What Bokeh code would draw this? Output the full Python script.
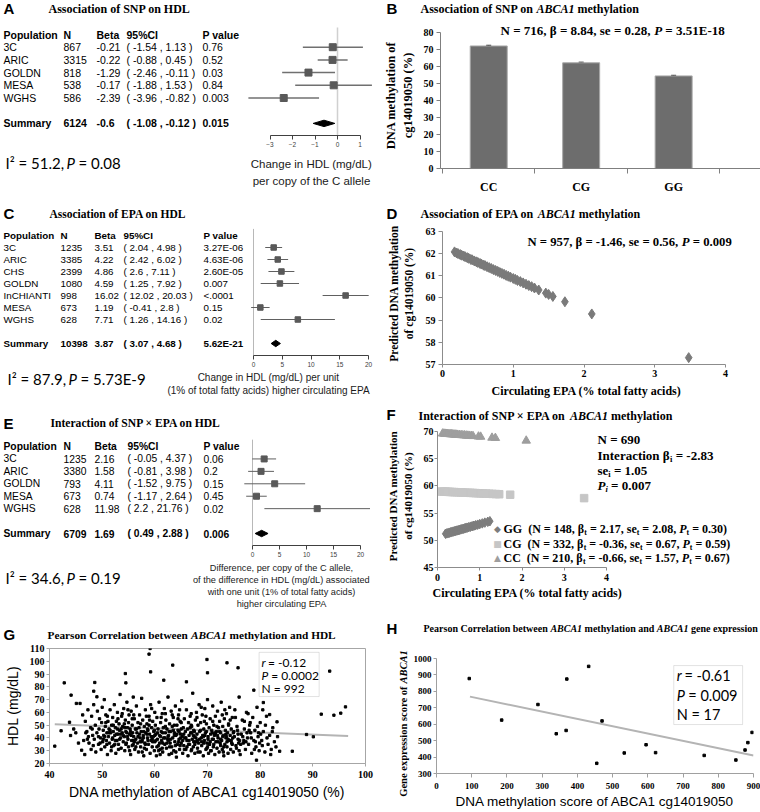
import math
from bokeh.plotting import figure
from bokeh.models import (Range1d, LinearAxis, FixedTicker, Label, ColumnDataSource,
                          BoxAnnotation, Whisker, TeeHead)
from bokeh.layouts import row, column
from bokeh.embed import file_html
from bokeh.resources import INLINE
from bokeh.core.properties import value

SERIF = "Liberation Serif"
SANS = "Liberation Sans"
CALI = "Lato"
SYM = "DejaVu Sans"

# ------------------------------------------------------------------ data
# A  Association of SNP on HDL
a_pop = ["3C", "ARIC", "GOLDN", "MESA", "WGHS"]
a_n = [867, 3315, 818, 538, 586]
a_beta = [-0.21, -0.22, -1.29, -0.17, -2.39]
a_lo = [-1.54, -0.88, -2.46, -1.88, -3.96]
a_hi = [1.13, 0.45, -0.11, 1.53, -0.82]
a_p = ["0.76", "0.52", "0.03", "0.84", "0.003"]
a_summary = ["Summary", 6124, -0.6, -1.08, -0.12, "0.015"]
a_i2 = ["51.2", "0.08"]
a_ticks = [-3, -2, -1, 0, 1]

# C  Association of EPA on HDL
c_pop = ["3C", "ARIC", "CHS", "GOLDN", "InCHIANTI", "MESA", "WGHS"]
c_n = [1235, 3385, 2399, 1080, 998, 673, 628]
c_beta = [3.51, 4.22, 4.86, 4.59, 16.02, 1.19, 7.71]
c_lo = [2.04, 2.42, 2.6, 1.25, 12.02, -0.41, 1.26]
c_hi = [4.98, 6.02, 7.11, 7.92, 20.03, 2.8, 14.16]
c_p = ["3.27E-06", "4.63E-06", "2.60E-05", "0.007", "<.0001", "0.15", "0.02"]
c_summary = ["Summary", 10398, 3.87, 3.07, 4.68, "5.62E-21"]
c_i2 = ["87.9", "5.73E-9"]
c_ticks = [0, 5, 10, 15, 20]

# E  Interaction of SNP x EPA on HDL
e_pop = ["3C", "ARIC", "GOLDN", "MESA", "WGHS"]
e_n = [1235, 3380, 793, 673, 628]
e_beta = [2.16, 1.58, 4.11, 0.74, 11.98]
e_lo = [-0.05, -0.81, -1.52, -1.17, 2.2]
e_hi = [4.37, 3.98, 9.75, 2.64, 21.76]
e_p = ["0.06", "0.2", "0.15", "0.45", "0.02"]
e_summary = ["Summary", 6709, 1.69, 0.49, 2.88, "0.006"]
e_i2 = ["34.6", "0.19"]
e_ticks = [0, 5, 10, 15, 20]

# B  Association of SNP on ABCA1 methylation
b_geno = ["CC", "CG", "GG"]
b_mean = [72.0, 62.1, 54.4]
b_err = [0.4, 0.35, 0.35]
b_ticks = [0, 10, 20, 30, 40, 50, 60, 70, 80]

# D  Association of EPA on ABCA1 methylation (predicted values)
d_epa = [0.17, 0.20, 0.22, 0.25, 0.27, 0.30, 0.32, 0.35, 0.37, 0.40, 0.42, 0.45, 0.48,
         0.50, 0.53, 0.55, 0.58, 0.60, 0.63, 0.66, 0.69, 0.72, 0.75, 0.78, 0.81, 0.84,
         0.87, 0.90, 0.93, 0.96, 1.00, 1.03, 1.06, 1.10, 1.14, 1.18, 1.22, 1.26, 1.30,
         1.36, 1.46, 1.50, 1.56, 1.73, 2.11, 3.48]
d_pred = [62.08, 62.03, 62.00, 61.96, 61.93, 61.89, 61.86, 61.82, 61.79, 61.74, 61.72,
          61.67, 61.63, 61.60, 61.56, 61.53, 61.48, 61.46, 61.41, 61.37, 61.33, 61.28,
          61.24, 61.20, 61.15, 61.11, 61.07, 61.02, 60.98, 60.94, 60.88, 60.84, 60.79,
          60.74, 60.68, 60.62, 60.56, 60.51, 60.45, 60.36, 60.22, 60.16, 60.07, 59.83,
          59.28, 57.31]
d_x_ticks = [0, 1, 2, 3, 4]
d_y_ticks = [57, 58, 59, 60, 61, 62, 63]

# F  Interaction of SNP x EPA on ABCA1 methylation
f_cc_epa = [0.12, 0.15, 0.18, 0.21, 0.24, 0.27, 0.30, 0.33, 0.36, 0.39, 0.42, 0.45, 0.48,
            0.52, 0.56, 0.60, 0.64, 0.68, 0.72, 0.76, 0.80, 0.84, 0.97, 1.02, 1.29, 1.37, 2.10]
f_cc_pred = [69.62, 69.60, 69.58, 69.56, 69.54, 69.52, 69.50, 69.48, 69.46, 69.44, 69.42,
             69.40, 69.38, 69.36, 69.33, 69.30, 69.28, 69.25, 69.22, 69.20, 69.17, 69.15,
             69.06, 69.03, 68.85, 68.80, 68.31]
f_cg_epa = [0.10, 0.14, 0.18, 0.22, 0.26, 0.30, 0.35, 0.40, 0.45, 0.50, 0.55, 0.60, 0.66,
            0.72, 0.78, 0.84, 0.90, 0.96, 1.02, 1.08, 1.15, 1.22, 1.30, 1.38, 1.46, 1.72, 3.47]
f_cg_pred = [58.96, 58.95, 58.94, 58.92, 58.91, 58.89, 58.87, 58.86, 58.84, 58.82, 58.80,
             58.78, 58.76, 58.74, 58.72, 58.70, 58.68, 58.65, 58.63, 58.61, 58.59, 58.56,
             58.53, 58.50, 58.47, 58.38, 57.75]
f_gg_epa = [0.19, 0.22, 0.25, 0.28, 0.31, 0.34, 0.37, 0.40, 0.43, 0.46, 0.49, 0.52, 0.55,
            0.58, 0.61, 0.64, 0.67, 0.70, 0.74, 0.78, 0.82, 0.86, 0.90, 0.95, 1.00, 1.06,
            1.12, 1.19, 1.24]
f_gg_pred = [51.20, 51.27, 51.33, 51.40, 51.46, 51.53, 51.60, 51.66, 51.73, 51.79, 51.86,
             51.93, 51.99, 52.06, 52.12, 52.19, 52.26, 52.32, 52.41, 52.50, 52.59, 52.67,
             52.76, 52.87, 52.98, 53.11, 53.25, 53.40, 53.51]
f_legend = [("GG", 148, "2.17", "2.08", "0.30"),
            ("CG", 332, "-0.36", "0.67", "0.59"),
            ("CC", 210, "-0.66", "1.57", "0.67")]
f_x_ticks = [0, 1, 2, 3, 4]
f_y_ticks = [45, 50, 55, 60, 65, 70]

# G  Pearson correlation between ABCA1 methylation and HDL
g_points = [
    (41.0, 33.6), (42.2, 45.6), (42.8, 83.1), (43.8, 52.3), (44.1, 73.5), (44.0, 41.9),
    (45.1, 67.0), (45.8, 67.0), (46.1, 30.4), (46.7, 27.0), (48.4, 76.6), (48.6, 83.4),
    (49.0, 72.2), (54.4, 90.4), (54.5, 83.1), (59.1, 110.0), (58.9, 105.6), (59.2, 91.7),
    (63.4, 97.0), (61.7, 85.2), (69.9, 101.4), (70.0, 91.0), (73.7, 98.8), (75.8, 94.9),
    (66.0, 83.9), (78.8, 77.4), (80.6, 67.7), (81.8, 58.3), (83.2, 52.6), (83.7, 29.6),
    (86.1, 29.6), (88.8, 42.7), (90.1, 40.9), (91.6, 58.6), (93.2, 92.3), (94.0, 57.8),
    (95.3, 59.4), (96.2, 64.3), (79.3, 22.6), (44.6, 47.0), (45.5, 36.0), (46.3, 58.0),
    (45.0, 44.0),
    (46.5, 38), (46.8, 53), (47.1, 45), (47.3, 62), (47.5, 36), (47.8, 48), (47.9, 31),
    (48.0, 57), (48.2, 42), (48.4, 66), (48.5, 39), (48.7, 50), (48.8, 29), (49.0, 44),
    (49.1, 61), (49.3, 35), (49.4, 47), (49.5, 55), (49.7, 40), (49.8, 31), (49.9, 52),
    (50.0, 64), (50.1, 37), (50.2, 46), (50.3, 42), (50.4, 70), (50.5, 33), (50.6, 49),
    (50.7, 58), (50.8, 38), (50.9, 44), (51.0, 27), (51.1, 53), (51.2, 41), (51.3, 47),
    (51.4, 36), (51.5, 62), (51.6, 44), (51.7, 30), (51.8, 50), (51.9, 39), (52.0, 56),
    (52.1, 45), (52.2, 34), (52.3, 66), (52.4, 42), (52.5, 48), (52.6, 28), (52.7, 53),
    (52.8, 38), (52.9, 60), (53.0, 43), (53.1, 35), (53.2, 51), (53.3, 46), (53.4, 74),
    (53.5, 40), (53.6, 32), (53.7, 57), (53.8, 44), (53.9, 49), (54.0, 37), (54.1, 63),
    (54.2, 41), (54.3, 30), (54.4, 54), (54.5, 45), (54.6, 36), (54.7, 68), (54.8, 48),
    (54.9, 39), (55.0, 52), (55.0, 33), (55.1, 58), (55.2, 43), (55.3, 47), (55.4, 27),
    (55.5, 61), (55.6, 38), (55.7, 50), (55.8, 44), (55.9, 35), (55.9, 72), (56.0, 41),
    (56.1, 55), (56.2, 31), (56.3, 47), (56.4, 39), (56.5, 65), (56.6, 44), (56.7, 36),
    (56.8, 52), (56.9, 29), (57.0, 48), (57.1, 58), (57.2, 40), (57.3, 33), (57.4, 45),
    (57.5, 71), (57.6, 38), (57.7, 54), (57.8, 42), (57.9, 26), (58.0, 49), (58.1, 36),
    (58.2, 62), (58.3, 44), (58.4, 31), (58.5, 51), (58.6, 40), (58.7, 46), (58.8, 35),
    (58.9, 57), (59.0, 43), (59.1, 28), (59.2, 66), (59.3, 38), (59.4, 48), (59.5, 33),
    (59.6, 53), (59.7, 41), (59.8, 45), (59.9, 30), (60.0, 60), (60.0, 37), (60.1, 50),
    (60.2, 43), (60.3, 26), (60.4, 56), (60.5, 39), (60.6, 47), (60.7, 34), (60.8, 68),
    (60.9, 42), (61.0, 31), (61.1, 52), (61.2, 45), (61.3, 38), (61.4, 59), (61.5, 29),
    (61.6, 48), (61.7, 40), (61.8, 63), (61.9, 35), (62.0, 44), (62.1, 54), (62.2, 32),
    (62.3, 47), (62.4, 39), (62.5, 72), (62.6, 42), (62.7, 27), (62.8, 51), (62.9, 36),
    (63.0, 45), (63.1, 61), (63.2, 33), (63.3, 49), (63.4, 40), (63.5, 56), (63.6, 30),
    (63.7, 44), (63.8, 37), (63.9, 65), (64.0, 42), (64.1, 25), (64.2, 50), (64.3, 35),
    (64.4, 46), (64.5, 58), (64.6, 39), (64.7, 31), (64.8, 53), (64.9, 43), (65.0, 36),
    (65.1, 69), (65.2, 41), (65.3, 28), (65.4, 48), (65.5, 34), (65.6, 55), (65.7, 40),
    (65.8, 45), (65.9, 31), (66.0, 62), (66.1, 38), (66.2, 47), (66.3, 26), (66.4, 52),
    (66.5, 42), (66.6, 35), (66.7, 57), (66.8, 44), (66.9, 30), (67.0, 49), (67.1, 39),
    (67.2, 75), (67.3, 33), (67.4, 46), (67.5, 41), (67.6, 28), (67.7, 54), (67.8, 37),
    (67.9, 60), (68.0, 43), (68.1, 32), (68.2, 50), (68.3, 36), (68.4, 66), (68.5, 45),
    (68.6, 29), (68.7, 52), (68.8, 40), (68.9, 34), (69.0, 58), (69.1, 42), (69.2, 26),
    (69.3, 47), (69.4, 38), (69.5, 63), (69.6, 44), (69.7, 31), (69.8, 51), (69.9, 36),
    (70.0, 70), (70.1, 41), (70.2, 28), (70.3, 48), (70.4, 35), (70.5, 55), (70.6, 43),
    (70.7, 30), (70.8, 46), (70.9, 39), (71.0, 65), (71.1, 33), (71.2, 50), (71.3, 42),
    (71.4, 27), (71.5, 57), (71.6, 37), (71.7, 45), (71.8, 32), (71.9, 61), (72.0, 40),
    (72.1, 48), (72.2, 29), (72.3, 53), (72.4, 36), (72.5, 44), (72.6, 68), (72.7, 38),
    (72.8, 31), (72.9, 49), (73.0, 42), (73.1, 26), (73.2, 55), (73.3, 35), (73.4, 46),
    (73.5, 40), (73.6, 59), (73.7, 33), (73.8, 44), (73.9, 28), (74.0, 51), (74.1, 38),
    (74.2, 64), (74.3, 42), (74.4, 31), (74.5, 47), (74.6, 36), (74.7, 56), (74.8, 40),
    (74.9, 29), (75.0, 45), (75.2, 62), (75.4, 34), (75.6, 49), (75.8, 39), (76.0, 72),
    (76.2, 27), (76.4, 43), (76.6, 54), (76.8, 36), (77.0, 47), (77.2, 31), (77.4, 60),
    (77.6, 40), (77.8, 35), (78.0, 50), (78.2, 44), (78.4, 28), (78.6, 56), (78.8, 38),
    (79.0, 46), (79.2, 33), (79.4, 64), (79.6, 41), (79.8, 30), (80.0, 52), (80.3, 38),
    (80.6, 45), (80.9, 29), (81.2, 57), (81.5, 35), (81.8, 42), (82.1, 31), (82.4, 48),
    (82.7, 37), (83.0, 33), (83.3, 41), (80.5, 62), (81.0, 50), (82.0, 27), (79.9, 36),
    (50.5, 41), (51.5, 46), (52.5, 38), (53.5, 43), (54.5, 35), (55.5, 42), (56.5, 47),
    (57.5, 37), (58.5, 43), (59.5, 39), (60.5, 44), (61.5, 36), (62.5, 41), (63.5, 46),
    (64.5, 37), (65.5, 43), (66.5, 38), (67.5, 45), (68.5, 39), (69.5, 42), (70.5, 37),
    (71.5, 44), (72.5, 39), (73.5, 43), (74.5, 38), (50.9, 35), (52.1, 50), (53.3, 39),
    (54.7, 44), (56.1, 37), (57.3, 51), (58.7, 38), (59.9, 46), (61.1, 41), (62.3, 36),
    (63.7, 50), (64.9, 40), (66.1, 33), (67.3, 42), (68.7, 46), (69.9, 32), (71.1, 39),
    (72.3, 45), (73.7, 37), (75.1, 41), (76.3, 35), (77.5, 44), (55.2, 30), (58.0, 32),
    (61.0, 27), (64.0, 29), (67.0, 31), (70.0, 33), (73.0, 29), (76.0, 30), (53.0, 55),
    (56.0, 58), (59.0, 54), (62.0, 59), (65.0, 52), (68.0, 56), (71.0, 53), (74.0, 50),
    (77.0, 53), (60.2, 38), (63.9, 34), (66.7, 48), (69.3, 36), (71.9, 42), (57.9, 45),
    (54.3, 48), (52.7, 43), (49.3, 41), (48.1, 47), (47.4, 41), (75.7, 46), (78.3, 40),
    (79.1, 37), (80.1, 43), (62.7, 45),
    (50.2, 39), (51.3, 44), (52.4, 35), (53.6, 47), (54.8, 41), (55.9, 38), (57.1, 43),
    (58.2, 35), (59.3, 41), (60.4, 33), (61.5, 44), (62.6, 38), (63.7, 42), (64.8, 34),
    (65.9, 40), (67.0, 44), (68.1, 38), (69.2, 41), (70.3, 35), (71.4, 43), (72.5, 34),
    (73.6, 41), (74.7, 35), (75.8, 43), (76.9, 38), (51.8, 33), (53.1, 31), (54.2, 51),
    (56.4, 33), (57.6, 29), (58.9, 50), (60.7, 30), (62.0, 49), (63.2, 28), (64.4, 55),
    (65.6, 31), (66.9, 50), (68.2, 29), (69.4, 53), (70.6, 30), (71.8, 49), (73.1, 33),
    (74.3, 54), (75.5, 32), (76.7, 41), (77.9, 46), (78.9, 31), (79.7, 44), (52.9, 47),
    (55.4, 45), (57.8, 40), (60.9, 36), (63.0, 39), (65.3, 38), (67.8, 40), (70.9, 44),
    (72.0, 37), (74.9, 44), (56.8, 41), (59.6, 37), (61.9, 40), (64.2, 43), (66.4, 35),
    (68.9, 37), (71.2, 35), (73.9, 39), (76.1, 38), (50.7, 52), (53.8, 59), (55.7, 55),
    (58.4, 57), (61.2, 56), (63.3, 58), (66.9, 59), (69.7, 57), (72.8, 58), (75.3, 56),
    (78.1, 52), (51.0, 57), (54.9, 62), (59.4, 63), (64.7, 62), (68.8, 64), (73.3, 62),
    (77.7, 59), (49.6, 36), (48.3, 34), (47.2, 39), (46.9, 44), (80.4, 34), (81.3, 40),
    (82.3, 45), (79.5, 49), (77.3, 37), (60.0, 42), (62.8, 33), (65.0, 47), (67.6, 35),
    (70.1, 39), (57.2, 37), (54.0, 42), (52.0, 40), (55.7, 34), (58.6, 47), (61.4, 32),
    (64.6, 45), (67.4, 37), (69.8, 45), (72.9, 41), (75.9, 36),
]
g_fit_x = [41.0, 96.7]
g_fit_y = [50.8, 41.5]
g_x_ticks = [40, 50, 60, 70, 80, 90, 100]
g_y_ticks = [20, 30, 40, 50, 60, 70, 80, 90, 100, 110]

# H  Pearson correlation between ABCA1 methylation and ABCA1 gene expression
h_meth = [93, 185, 288, 340, 368, 370, 432, 455, 470, 533, 595, 622, 760, 850, 876, 884, 896]
h_expr = [878, 625, 720, 542, 562, 875, 952, 362, 620, 425, 475, 427, 410, 382, 443, 488, 550]
h_fit_x = [95, 900]
h_fit_y = [768, 410]
h_x_ticks = [0, 100, 200, 300, 400, 500, 600, 700, 800, 900]
h_y_ticks = [300, 400, 500, 600, 700, 800, 900, 1000]

# ------------------------------------------------------------------ helpers
TNRB = {' ': 250, '%': 1000, '(': 333, ')': 333, ',': 250, '-': 333, '.': 250, '/': 278,
        '=': 570, '\u00d7': 570, '\u03b2': 556, '<': 570,
        'A': 722, 'B': 667, 'C': 722, 'D': 722, 'E': 667, 'F': 611, 'G': 778, 'H': 778,
        'I': 389, 'L': 667, 'M': 944, 'N': 722, 'O': 778, 'P': 611, 'S': 556, 'T': 667,
        'a': 500, 'b': 556, 'c': 444, 'd': 556, 'e': 444, 'f': 333, 'g': 500, 'h': 556,
        'i': 278, 'l': 278, 'm': 833, 'n': 556, 'o': 500, 'p': 556, 'r': 444, 's': 389,
        't': 333, 'u': 556, 'w': 722, 'x': 500, 'y': 500}
TNRBI = {'A': 667, 'B': 667, 'C': 667, 'P': 611, 'i': 278, 't': 278}


def tw(s, size, italic=False):
    tot = 0
    for ch in s:
        if italic and ch in TNRBI:
            tot += TNRBI[ch]
        else:
            tot += TNRB.get(ch, 500)
    return tot * size / 1000.0


FR = {}


def mkfig(w, h, l, r, t, b, xr, yr, outline=None):
    p = figure(width=w, height=h, x_range=xr, y_range=yr, x_axis_type=None, y_axis_type=None,
               output_backend="svg", toolbar_location=None, title=None,
               min_border_left=l, min_border_right=r, min_border_top=t, min_border_bottom=b)
    p.outline_line_color = outline
    p.background_fill_color = "white"
    p.border_fill_color = "white"
    FR[p.id] = (l, h - b)
    return p


def tfig(w, h):
    return mkfig(w, h, 0, 0, 0, 0, Range1d(0, w), Range1d(0, h))


def lab(p, x, y, text, size, font=SERIF, style="bold", color="black", align="left",
        baseline="middle", angle=0.0):
    l, fb = FR[p.id]
    p.add_layout(Label(x=x - l, y=fb - y, x_units="screen", y_units="screen", text=text,
                       text_font=font, text_font_size=f"{size}px", text_font_style=style,
                       text_color=color, text_align=align, text_baseline=baseline, angle=angle))


def labd(p, x, y, text, size, font=CALI, style="normal"):
    p.add_layout(Label(x=x, y=y, text=text, text_font=font, text_font_size=f"{size}px",
                       text_font_style=style, text_color="black", text_baseline="middle",
                       text_align="left"))


def rich(p, x, y, pieces, size, color="black"):
    cx = x
    for txt, st in pieces:
        sub = st.startswith("s")
        ital = st in ("bi", "si")
        sz = size * 0.65 if sub else size
        yy = y + size * 0.3 if sub else y
        lead = len(txt) - len(txt.lstrip(" "))
        body = txt.strip(" ")
        if body:
            lab(p, cx + tw(" " * lead, sz), yy, body, sz,
                style="bold italic" if ital else "bold", color=color)
        cx += tw(txt, sz, ital)


def rich_v(p, x, yc, pieces, size):
    total = sum(tw(t, size, st == "bi") for t, st in pieces)
    cy = yc + total / 2
    for t, st in pieces:
        lead = len(t) - len(t.lstrip(" "))
        body = t.strip(" ")
        lab(p, x, cy - tw(" " * lead, size), body, size,
            style="bold italic" if st == "bi" else "bold", angle=math.pi / 2)
        cy -= tw(t, size, st == "bi")


def letter(p, x, y, ch):
    lab(p, x, y, ch, 15, font=SANS, style="bold")


def i2(p, x, xp, xe, y, vals):
    lab(p, x, y, f"I\u00b2 = {vals[0]},", 15, font=CALI, style="normal")
    lab(p, xp, y, "P", 15, font=CALI, style="italic")
    lab(p, xe, y, f"= {vals[1]}", 15, font=CALI, style="normal")


def style_axis(ax, size, tick_out, standoff, color="#888888", font=SERIF, fstyle="bold",
               label_color="black"):
    ax.axis_line_color = color
    ax.major_tick_line_color = color
    ax.major_tick_out = tick_out
    ax.major_tick_in = 0
    ax.minor_tick_line_color = None
    ax.major_label_text_font = font
    ax.major_label_text_font_size = f"{size}px"
    ax.major_label_text_font_style = fstyle
    ax.major_label_text_color = label_color
    ax.major_label_standoff = standoff


def axis_title(ax, text, size, standoff, font=SERIF, fstyle="bold"):
    ax.axis_label = text
    ax.axis_label_text_font = font
    ax.axis_label_text_font_size = f"{size}px"
    ax.axis_label_text_font_style = fstyle
    ax.axis_label_text_color = "black"
    ax.axis_label_standoff = standoff


def forest(w, h, frame_h, row0, rowpx, zero_at, unitpx, ticks, pop, n, beta, lo, hi, pv,
           summ, sum_row, cols, tsize, sq, lw, ci_col, zcol, zw):
    yt = -row0 / rowpx
    yb = (frame_h - row0) / rowpx
    x0 = -zero_at / unitpx
    x1 = (w - zero_at) / unitpx
    p = mkfig(w, h, 0, 0, 0, h - frame_h, Range1d(x0, x1), Range1d(yb, yt))
    rows = list(range(1, len(pop) + 1))
    p.segment(x0=[0], y0=[-0.55], x1=[0], y1=[yb], line_color=zcol, line_width=zw)
    p.segment(x0=lo, y0=rows, x1=hi, y1=rows, line_color=ci_col, line_width=lw)
    p.scatter(x=beta, y=rows, marker="square", size=sq, fill_color="#595959",
              line_color="#595959")
    hh = 3.2 / rowpx
    sb, sl, sh = summ[2], summ[3], summ[4]
    p.patch(x=[sl, sb, sh, sb], y=[sum_row, sum_row - hh, sum_row, sum_row + hh],
            fill_color="black", line_color="black")

    def put(rws, texts, style):
        xs, ys, ts, xo = [], [], [], []
        for r, tt in zip(rws, texts):
            for cx, t in zip(cols, tt):
                xs.append(x0)
                ys.append(r)
                ts.append(t)
                xo.append(cx)
        p.text(x="x", y="y", text="t", x_offset="xo",
               source=ColumnDataSource(dict(x=xs, y=ys, t=ts, xo=xo)),
               text_font=value(SANS), text_font_size=value(f"{tsize}px"),
               text_font_style=value(style), text_align=value("left"),
               text_baseline=value("middle"), text_color=value("black"))

    put([0], [["Population", "N", "Beta", "95%CI", "P value"]], "bold")
    put(rows, [[pp, str(nn), f"{b:g}", f"( {l_:g} , {h_:g} )", q]
               for pp, nn, b, l_, h_, q in zip(pop, n, beta, lo, hi, pv)], "normal")
    put([sum_row], [[summ[0], str(summ[1]), f"{summ[2]:g}",
                     f"( {summ[3]:g} , {summ[4]:g} )", summ[5]]], "bold")
    ax = LinearAxis(ticker=FixedTicker(ticks=ticks), bounds=(ticks[0], ticks[-1]))
    style_axis(ax, 6.5, 4, 2, color="#404040", font=SANS, fstyle="normal",
               label_color="#404040")
    p.add_layout(ax, "below")
    return p


def centered_lines(p, cx, ys, lines, size):
    for yy, t in zip(ys, lines):
        lab(p, cx, yy, t, size, font=SANS, style="normal", color="#1a1a1a", align="center")


# ------------------------------------------------------------------ A (y 0-198)
pA = forest(380, 149, 135, 34, 12.7, 337, 22.5, a_ticks, a_pop, a_n, a_beta, a_lo, a_hi,
            a_p, a_summary, 7, [3, 63, 96, 126, 202], 10.5, 7, 1.5, "#707070", "#d0d0d0", 1.5)
letter(pA, 3, 8, "A")
rich(pA, 48, 8, [("Association of SNP on HDL", "b")], 12)
pAf = tfig(380, 49)
i2(pAf, 5, 66, 78, 13, a_i2)
centered_lines(pAf, 311, [14, 31], ["Change in HDL (mg/dL)", "per copy of the C allele"], 11.5)

# ------------------------------------------------------------------ C (y 198-408)
pC = forest(380, 171, 157, 37, 12.0, 253, 5.75, c_ticks, c_pop, c_n, c_beta, c_lo, c_hi,
            c_p, c_summary, 9, [3, 60, 94, 123, 203], 9.8, 5.5, 1.0, "#606060", "#b8b8b8", 1.0)
letter(pC, 3, 15, "C")
rich(pC, 49, 15, [("Association of EPA on HDL", "b")], 11.5)
pCf = tfig(380, 39)
i2(pCf, 7, 68, 80, 9, c_i2)
centered_lines(pCf, 268, [8, 21], ["Change in HDL (mg/dL) per unit",
                                   "(1% of total fatty acids) higher circulating EPA"], 10)

# ------------------------------------------------------------------ E (y 408-612)
pE = forest(380, 151, 137, 38, 12.43, 252, 5.4, e_ticks, e_pop, e_n, e_beta, e_lo, e_hi,
            e_p, e_summary, 7, [3, 63, 94, 127, 203], 10.3, 6, 1.0, "#606060", "#b8b8b8", 1.0)
letter(pE, 3, 15, "E")
rich(pE, 50, 15, [("Interaction of SNP \u00d7 EPA on HDL", "b")], 11.6)
pEf = tfig(380, 53)
i2(pEf, 5, 66, 78, 18, e_i2)
centered_lines(pEf, 281, [8, 20, 32, 44],
               ["Difference, per copy of the C allele,",
                "of the difference in HDL (mg/dL) associated",
                "with one unit (1% of total fatty acids)",
                "higher circulating EPA"], 9.2)

# ------------------------------------------------------------------ B (y 0-196)
pBh = tfig(380, 22)
letter(pBh, 6, 8, "B")
rich(pBh, 40, 8, [("Association of SNP on ", "b"), ("ABCA1", "bi"), (" methylation", "b")], 12)

cat_px = 93.33
pB = mkfig(380, 174, 57, 0, 0, 26, Range1d(-2 / cat_px, 321 / cat_px),
           Range1d(0, 148 / 1.725))
bx = [i + 0.5 for i in range(len(b_geno))]
pB.vbar(x=bx, top=b_mean, width=0.4, bottom=0, fill_color="#6d6d6d", line_color="#a8a8a8")
bsrc = ColumnDataSource(dict(x=bx, up=[m + e for m, e in zip(b_mean, b_err)],
                             lo=[m - e for m, e in zip(b_mean, b_err)]))
pB.add_layout(Whisker(source=bsrc, base="x", upper="up", lower="lo", line_color="black",
                      line_width=1, upper_head=TeeHead(size=5, line_color="black"),
                      lower_head=TeeHead(size=5, line_color="black")))
ya = LinearAxis(ticker=FixedTicker(ticks=b_ticks), bounds=(0, 80))
style_axis(ya, 10, 4, 3, color="#7f7f7f")
axis_title(ya, "DNA methylation of\ncg14019050 (%)", 12.5, 6)
pB.add_layout(ya, "left")
xa = LinearAxis(ticker=FixedTicker(ticks=bx, minor_ticks=[0, 1, 2, 3]),
                major_label_overrides={x: g for x, g in zip(bx, b_geno)})
style_axis(xa, 12, 0, 6, color="#7f7f7f")
xa.minor_tick_line_color = "#7f7f7f"
xa.minor_tick_out = 5
xa.minor_tick_in = 0
pB.add_layout(xa, "below")
rich(pB, 117, 10, [("N = 716, \u03b2 = 8.84, se = 0.28, ", "b"), ("P", "bi"),
                   (" = 3.51E-18", "b")], 13)

# ------------------------------------------------------------------ D (y 196-400)
pDh = tfig(380, 26)
letter(pDh, 6, 17, "D")
rich(pDh, 40, 17, [("Association of EPA on ", "b"), ("ABCA1", "bi"), (" methylation", "b")], 12)

pD = mkfig(380, 160, 62, 0, 0, 18, Range1d(0, 318 / 70.75), Range1d(57, 57 + 142 / 22.17))
pD.scatter(d_epa, d_pred, marker="diamond", size=10, fill_color="#7a7a7a", line_color="#7a7a7a")
dx = LinearAxis(ticker=FixedTicker(ticks=d_x_ticks), bounds=(0, 4))
style_axis(dx, 10, 3, 2, color="#8c8c8c")
pD.add_layout(dx, "below")
dy = LinearAxis(ticker=FixedTicker(ticks=d_y_ticks), bounds=(57, 63))
style_axis(dy, 10, 4, 3, color="#8c8c8c")
axis_title(dy, "Predicted DNA methylation\nof cg14019050 (%)", 11.5, 8)
pD.add_layout(dy, "left")
rich(pD, 147, 19, [("N = 957, \u03b2 = -1.46, se = 0.56, ", "b"), ("P", "bi"),
                   (" = 0.009", "b")], 12.7)
pDf = tfig(380, 18)
lab(pDf, 206, 8, "Circulating EPA (% total fatty acids)", 12, align="center")

# ------------------------------------------------------------------ F (y 400-612)
pFh = tfig(380, 24)
letter(pFh, 6, 14, "F")
rich(pFh, 38, 15, [("Interaction of SNP \u00d7 EPA on ", "b"), ("ABCA1", "bi"),
                   (" methylation", "b")], 12)

pF = mkfig(380, 161, 57, 0, 0, 18, Range1d(0, 323 / 42.25), Range1d(45, 45 + 143 / 5.44))
pF.scatter(f_cc_epa, f_cc_pred, marker="triangle", size=8.5, fill_color="#9e9e9e",
           line_color="#9e9e9e")
pF.scatter(f_cg_epa, f_cg_pred, marker="square", size=7.5, fill_color="#c6c6c6",
           line_color="#c6c6c6")
pF.scatter(f_gg_epa, f_gg_pred, marker="diamond", size=9.5, fill_color="#7d7d7d",
           line_color="#7d7d7d")
fx = LinearAxis(ticker=FixedTicker(ticks=f_x_ticks), bounds=(0, 4))
style_axis(fx, 10, 3, 3, color="#8c8c8c")
pF.add_layout(fx, "below")
fy = LinearAxis(ticker=FixedTicker(ticks=f_y_ticks), bounds=(45, 70))
style_axis(fy, 10, 3, 1, color="#8c8c8c")
axis_title(fy, "Predicted DNA methylation\nof cg14019050 (%)", 11, 7)
pF.add_layout(fy, "left")
rich(pF, 217, 15, [("N = 690", "b")], 13)
rich(pF, 217, 31, [("Interaction \u03b2", "b"), ("i", "s"), (" = -2.83", "b")], 13)
rich(pF, 217, 46, [("se", "b"), ("i", "s"), (" = 1.05", "b")], 13)
rich(pF, 217, 61, [("P", "bi"), ("i", "si"), (" = 0.007", "b")], 13)
marks = [("\u25c6", "#7d7d7d"), ("\u25a0", "#c6c6c6"), ("\u25b2", "#9e9e9e")]
for (g, nn, bt, se, pt), (mk, mc), yy in zip(f_legend, marks, [104, 119, 133]):
    lab(pF, 117, yy, mk, 9, font=SYM, style="normal", color=mc, align="center")
    rich(pF, 123, yy, [(g, "b"), (f"  (N = {nn}, \u03b2", "b"), ("t", "s"),
                       (f" = {bt}, se", "b"), ("t", "s"), (f" = {se}, ", "b"), ("P", "bi"),
                       ("t", "s"), (f" = {pt})", "b")], 12)
pFf = tfig(380, 27)
lab(pFf, 147, 7, "Circulating EPA (% total fatty acids)", 12, align="center")

# ------------------------------------------------------------------ G (y 612-812)
pGh = tfig(380, 30)
letter(pGh, 3, 22, "G")
rich(pGh, 47, 22, [("Pearson Correlation between ", "b"), ("ABCA1", "bi"),
                   (" methylation and HDL", "b")], 11.3)

pG = mkfig(380, 170, 49, 15, 6, 49, Range1d(40, 100), Range1d(20, 110), outline="#a6a6a6")
gx = [pt[0] for pt in g_points]
gy = [pt[1] for pt in g_points]
pG.line(g_fit_x, g_fit_y, line_color="#b4b4b4", line_width=2)
pG.scatter(gx, gy, marker="square", size=2.3, fill_color="black", line_color="black")
pG.add_layout(BoxAnnotation(left=79.8, right=91.2, bottom=72.4, top=107, fill_color="white",
                            fill_alpha=1.0, line_color="#a0a0a0", line_width=1))
labd(pG, 80.25, 99.0, "r", 12, style="italic")
labd(pG, 81.5, 99.0, "= -0.12", 12)
labd(pG, 80.25, 88.9, "P", 12, style="italic")
labd(pG, 82.1, 88.9, "= 0.0002", 12)
labd(pG, 80.25, 78.7, "N = 992", 12)
gxa = LinearAxis(ticker=FixedTicker(ticks=g_x_ticks))
style_axis(gxa, 10, 3, 4, color="#a6a6a6")
axis_title(gxa, "DNA methylation of ABCA1 cg14019050 (%)", 14, 3, font=SANS, fstyle="normal")
pG.add_layout(gxa, "below")
gya = LinearAxis(ticker=FixedTicker(ticks=g_y_ticks))
style_axis(gya, 10, 3, 2, color="#a6a6a6")
axis_title(gya, "HDL (mg/dL)", 14, 6, font=SANS, fstyle="normal")
pG.add_layout(gya, "left")

# ------------------------------------------------------------------ H (y 612-812)
pHh = tfig(380, 24)
letter(pHh, 6, 16, "H")
rich(pHh, 43, 16, [("Pearson Correlation between ", "b"), ("ABCA1", "bi"),
                   (" methylation and ", "b"), ("ABCA1", "bi"), (" gene expression", "b")], 10)
pHl = tfig(30, 176)
rich_v(pHl, 23, 87, [("Gene expression score of ", "b"), ("ABCA1", "bi")], 10.5)

pH = mkfig(350, 176, 25, 7, 22, 39, Range1d(0, 900), Range1d(300, 1000))
pH.line(h_fit_x, h_fit_y, line_color="#b4b4b4", line_width=2)
pH.scatter(h_meth, h_expr, marker="square", size=2.5, fill_color="black", line_color="black")
pH.add_layout(BoxAnnotation(left=673.6, right=869, bottom=598, top=957, fill_color="white",
                            fill_alpha=1.0, line_color="#a0a0a0", line_width=1))
labd(pH, 682, 896, "r", 14.5, style="italic")
labd(pH, 704, 896, "= -0.61", 14.5)
labd(pH, 682, 776, "P", 14.5, style="italic")
labd(pH, 715, 776, "= 0.009", 14.5)
labd(pH, 682, 659, "N = 17", 14.5)
hxa = LinearAxis(ticker=FixedTicker(ticks=h_x_ticks))
style_axis(hxa, 9, 4, 5, color="#a0a0a0")
axis_title(hxa, "DNA methylation score of ABCA1 cg14019050", 13.5, 2, font=SANS,
           fstyle="normal")
pH.add_layout(hxa, "below")
hya = LinearAxis(ticker=FixedTicker(ticks=h_y_ticks))
style_axis(hya, 9, 3, 2, color="#a0a0a0")
pH.add_layout(hya, "left")

# ------------------------------------------------------------------ layout
def w(p):
    return row(p)


left_col = column(w(pA), w(pAf), w(pC), w(pCf), w(pE), w(pEf))
right_col = column(w(pBh), w(pB), w(pDh), w(pD), w(pDf), w(pFh), w(pF), w(pFf))
g_col = column(w(pGh), w(pG))
h_col = column(w(pHh), row(column(pHl), column(pH)))
layout = column(row(left_col, right_col), row(g_col, h_col))
open("out.html", "w").write(file_html(layout, INLINE))
